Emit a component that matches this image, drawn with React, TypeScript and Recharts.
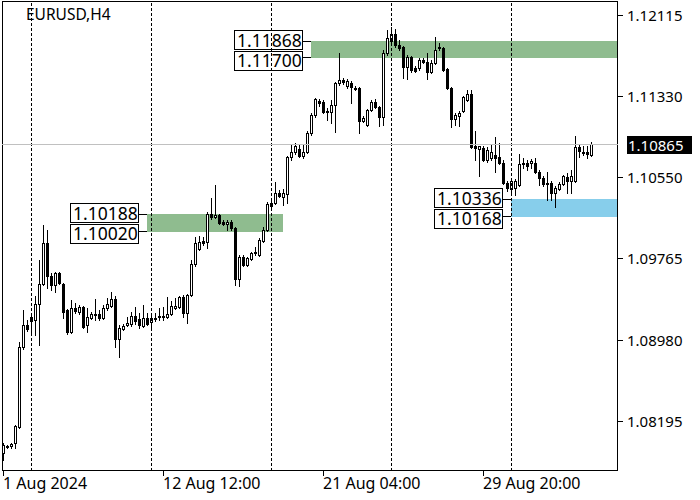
import React from 'react';
import { ComposedChart, Bar, XAxis, YAxis, ReferenceLine, ReferenceArea } from 'recharts';

const FONT = '"Noto Sans", sans-serif';

// H4 candles, EURUSD
const opens = [
  1.07884, 1.07942, 1.07952, 1.07981, 1.08135, 1.08908, 1.09121, 1.09198, 1.09169, 1.09323,
  1.09517, 1.09913, 1.09594, 1.09507, 1.09623, 1.09517, 1.09265, 1.09053, 1.09285, 1.09246,
  1.09294, 1.09121, 1.09188, 1.09217, 1.09227, 1.09188, 1.09285, 1.09304, 1.09372, 1.08985,
  1.09082, 1.09121, 1.0913, 1.09207, 1.09178, 1.09111, 1.09188, 1.0915, 1.09178, 1.09198,
  1.09207, 1.09198, 1.09227, 1.09285, 1.09294, 1.09391, 1.09236, 1.0941, 1.0971, 1.09855,
  1.09932, 1.09922, 1.10193, 1.10164, 1.10183, 1.10116, 1.10096, 1.10116, 1.10058, 1.09565,
  1.09777, 1.097, 1.09758, 1.09816, 1.09797, 1.09932, 1.10038, 1.1027, 1.10299, 1.10396,
  1.10357, 1.10386, 1.10743, 1.10792, 1.10821, 1.10753, 1.10792, 1.10975, 1.11149, 1.11284,
  1.11275, 1.11188, 1.11178, 1.11246, 1.11458, 1.11487, 1.11429, 1.11458, 1.1141, 1.1141,
  1.11091, 1.11052, 1.11197, 1.11275, 1.11226, 1.1113, 1.11748, 1.11864, 1.11932, 1.11825,
  1.11806, 1.11613, 1.11709, 1.11603, 1.11603, 1.1168, 1.11661, 1.11565, 1.11651, 1.11796,
  1.11796, 1.11593, 1.1141, 1.1111, 1.11139, 1.11188, 1.11294, 1.11352, 1.1085, 1.10821,
  1.1083, 1.10714, 1.10734, 1.10763, 1.10743, 1.10685, 1.10492, 1.10434, 1.10444, 1.10473,
  1.10676, 1.10685, 1.10685, 1.10685, 1.10598, 1.10541, 1.10492, 1.10492, 1.10396, 1.10434,
  1.10483, 1.1055, 1.10512, 1.10512, 1.1084, 1.10782, 1.10792, 1.10763,
];
const closes = [
  1.07961, 1.07952, 1.07971, 1.08145, 1.08908, 1.09121, 1.09082, 1.09159, 1.09323, 1.09517,
  1.09913, 1.09594, 1.09507, 1.09623, 1.09526, 1.09246, 1.09053, 1.09285, 1.09256, 1.09294,
  1.09101, 1.09198, 1.09227, 1.09227, 1.09188, 1.09285, 1.09323, 1.09372, 1.08985, 1.09092,
  1.09111, 1.0914, 1.09207, 1.09159, 1.09121, 1.09188, 1.0913, 1.09188, 1.09188, 1.09207,
  1.09198, 1.09227, 1.09304, 1.09304, 1.09391, 1.09236, 1.0941, 1.0971, 1.09913, 1.09922,
  1.09913, 1.10193, 1.10164, 1.10183, 1.10106, 1.10096, 1.10116, 1.10058, 1.09565, 1.09777,
  1.097, 1.09768, 1.09816, 1.09826, 1.09942, 1.10038, 1.10289, 1.10299, 1.10396, 1.10367,
  1.10396, 1.10743, 1.10792, 1.1085, 1.10753, 1.10792, 1.10975, 1.11149, 1.11304, 1.11265,
  1.11178, 1.11178, 1.11246, 1.11458, 1.11487, 1.11468, 1.11478, 1.1142, 1.114, 1.11091,
  1.1112, 1.11197, 1.11275, 1.11226, 1.1113, 1.11748, 1.11893, 1.11932, 1.11825, 1.11796,
  1.11613, 1.11709, 1.11584, 1.11574, 1.1168, 1.11661, 1.11565, 1.11651, 1.11777, 1.11806,
  1.11584, 1.1141, 1.1111, 1.11149, 1.11168, 1.11323, 1.11352, 1.1084, 1.1083, 1.1085,
  1.10714, 1.10811, 1.10792, 1.10734, 1.10685, 1.10492, 1.10444, 1.10512, 1.10512, 1.10676,
  1.10685, 1.10656, 1.10705, 1.10598, 1.10541, 1.10483, 1.10483, 1.10396, 1.10444, 1.10483,
  1.1056, 1.10512, 1.1056, 1.1084, 1.10801, 1.10792, 1.10772, 1.10865,
];
const highs = [
  1.07981, 1.07961, 1.07981, 1.08155, 1.08956, 1.09265, 1.09169, 1.09217, 1.09401, 1.09748,
  1.10087, 1.10038, 1.09623, 1.09633, 1.09633, 1.09526, 1.09275, 1.09362, 1.09333, 1.09314,
  1.09304, 1.09285, 1.09246, 1.09372, 1.09265, 1.09314, 1.09381, 1.09439, 1.09401, 1.09121,
  1.0913, 1.09198, 1.09246, 1.09294, 1.09236, 1.09314, 1.09236, 1.09217, 1.09236, 1.09285,
  1.09294, 1.09391, 1.09352, 1.09381, 1.09401, 1.0941, 1.0942, 1.09748, 1.09971, 1.0998,
  1.09971, 1.10212, 1.10347, 1.10473, 1.10193, 1.10135, 1.10135, 1.10135, 1.10067, 1.09797,
  1.09797, 1.09777, 1.09826, 1.09874, 1.09961, 1.10067, 1.10309, 1.10328, 1.10502, 1.10425,
  1.10434, 1.10753, 1.10859, 1.10879, 1.10869, 1.10869, 1.10995, 1.11168, 1.11313, 1.11304,
  1.11294, 1.11217, 1.11294, 1.11468, 1.11748, 1.11506, 1.11497, 1.11478, 1.11429, 1.1142,
  1.11139, 1.11207, 1.11294, 1.11304, 1.11236, 1.11777, 1.1197, 1.11999, 1.1198, 1.11874,
  1.11816, 1.11729, 1.11719, 1.11622, 1.117, 1.117, 1.11748, 1.1168, 1.11903, 1.11845,
  1.11806, 1.11603, 1.1142, 1.11168, 1.11188, 1.11333, 1.11391, 1.11391, 1.10995, 1.1085,
  1.1085, 1.1084, 1.10859, 1.10937, 1.10879, 1.10714, 1.10512, 1.10541, 1.10531, 1.10772,
  1.10734, 1.10714, 1.10724, 1.10734, 1.10618, 1.1056, 1.10598, 1.10512, 1.10463, 1.10502,
  1.1057, 1.10589, 1.10618, 1.10946, 1.10859, 1.1085, 1.1085, 1.10888,
];
const lows = [
  1.07816, 1.07932, 1.07932, 1.07932, 1.08126, 1.08889, 1.09063, 1.09024, 1.09024, 1.08927,
  1.09507, 1.09478, 1.09459, 1.09439, 1.09517, 1.09188, 1.09034, 1.09043, 1.09236, 1.09227,
  1.09092, 1.09053, 1.09178, 1.09169, 1.09169, 1.09178, 1.09265, 1.09294, 1.08908, 1.08811,
  1.09072, 1.09111, 1.09111, 1.0913, 1.09092, 1.09101, 1.09121, 1.09092, 1.09159, 1.09169,
  1.09169, 1.09188, 1.09217, 1.09275, 1.09285, 1.09198, 1.0914, 1.09401, 1.0969, 1.09845,
  1.09893, 1.09864, 1.10145, 1.10154, 1.10096, 1.10087, 1.10038, 1.10038, 1.09507, 1.09497,
  1.0969, 1.0969, 1.09748, 1.09797, 1.09787, 1.09922, 1.10029, 1.10251, 1.10289, 1.10357,
  1.1028, 1.10299, 1.10714, 1.10772, 1.10743, 1.10734, 1.10782, 1.10956, 1.1113, 1.11236,
  1.11168, 1.11101, 1.11072, 1.10985, 1.11439, 1.11449, 1.1141, 1.11265, 1.11391, 1.10975,
  1.11081, 1.11043, 1.11188, 1.11217, 1.11043, 1.11052, 1.11729, 1.11835, 1.11806, 1.11777,
  1.11506, 1.11497, 1.11565, 1.11565, 1.11584, 1.11651, 1.11497, 1.11555, 1.11642, 1.11777,
  1.11574, 1.114, 1.11033, 1.11052, 1.11043, 1.11178, 1.11284, 1.1083, 1.10714, 1.1056,
  1.10705, 1.10695, 1.10714, 1.10598, 1.10676, 1.10483, 1.10415, 1.10396, 1.10376, 1.10463,
  1.10637, 1.10618, 1.10637, 1.10589, 1.10473, 1.10463, 1.10328, 1.10328, 1.1026, 1.10425,
  1.10473, 1.10396, 1.10396, 1.10502, 1.10743, 1.10763, 1.10734, 1.10753,
];

const xTickIndex = [0, 40, 80, 120];
const xTickLabels = ['1 Aug 2024', '12 Aug 12:00', '21 Aug 04:00', '29 Aug 20:00'];
const yTicks = [1.12115, 1.1133, 1.1055, 1.09765, 1.0898, 1.08195];
const separators = [7, 37, 67, 97, 127];
const currentPrice = 1.10865;
const symbolTitle = 'EURUSD,H4';

const zoneStart = [36, 77, 127];
const zoneLow = [1.1002, 1.117, 1.10168];
const zoneHigh = [1.10188, 1.11868, 1.10336];
const zoneColor = ['#8FBC8F', '#8FBC8F', '#87CEEB'];

const X_MIN = -0.25;
const X_MAX = 153.75;
const Y_MIN = 1.0771;
const Y_MAX = 1.1225;
const zoneEnd = [70, X_MAX, X_MAX];

const data = opens.map((o, i) => ({
  i,
  o,
  c: closes[i],
  h: highs[i],
  l: lows[i],
  range: [lows[i], highs[i]],
}));

const Candle = (props: any) => {
  const { x, y, width, height, payload } = props;
  if (!payload || height == null || isNaN(y)) return null;
  const { o, c, h, l } = payload;
  const cx = Math.round(x + width / 2);
  const k = height / (h - l);
  const py = (v: number) => y + (h - v) * k;
  const top = Math.round(py(Math.max(o, c)));
  const bot = Math.round(py(Math.min(o, c)));
  const yh = Math.round(y);
  const yl = Math.round(y + height);
  const bull = c >= o;
  const bh = Math.max(bot - top, 1);
  return (
    <g>
      <line x1={cx + 0.5} x2={cx + 0.5} y1={yh} y2={yl + 1} stroke="#000" strokeWidth={1} />
      {bull ? (
        <rect x={cx - 0.5} y={top + 0.5} width={2} height={bh} fill="#fff" stroke="#000" strokeWidth={1} />
      ) : (
        <rect x={cx - 1} y={top} width={3} height={bh + 1} fill="#000" />
      )}
    </g>
  );
};

const XTick = (props: any) => {
  const { x, y, payload } = props;
  const idx = xTickIndex.indexOf(payload.value);
  const px = Math.round(x);
  return (
    <g>
      <line x1={px + 0.5} x2={px + 0.5} y1={y} y2={y + 5} stroke="#000" />
      <text x={px} y={y + 18} fontFamily={FONT} fontSize={16} fill="#000">
        {xTickLabels[idx]}
      </text>
    </g>
  );
};

const YTick = (props: any) => {
  const { x, y, payload } = props;
  const py = Math.round(y);
  return (
    <g>
      <line x1={x} x2={x + 5} y1={py + 0.5} y2={py + 0.5} stroke="#000" />
      <text x={x + 9} y={py + 5.5} fontFamily={FONT} fontSize={15} fill="#000">
        {Number(payload.value).toFixed(5)}
      </text>
    </g>
  );
};

const makeZoneShape = (hiText: string, loText: string) => (p: any) => {
  const { x, y, width, height, fill } = p;
  const L = Math.round(x);
  const T = Math.round(y);
  const B = Math.round(y + height);
  const R = Math.round(x + width);
  const boxR = L - 9;
  const boxL = boxR - 68;
  const mid = Math.round((T + B) / 2);
  return (
    <g>
      <rect x={L} y={T} width={R - L} height={B - T} fill={fill} />
      <line x1={boxR} x2={L} y1={T + 0.5} y2={T + 0.5} stroke="#000" />
      <line x1={boxR} x2={L} y1={B - 0.5} y2={B - 0.5} stroke="#000" />
      <rect x={boxL + 0.5} y={mid - 20 + 0.5} width={68} height={19} fill="#fff" stroke="#000" />
      <rect x={boxL + 0.5} y={mid + 1 + 0.5} width={68} height={19} fill="#fff" stroke="#000" />
      <text x={boxL + 3} y={mid - 3} fontFamily={FONT} fontSize={17.5} fill="#000">
        {hiText}
      </text>
      <text x={boxL + 3} y={mid + 17} fontFamily={FONT} fontSize={17.5} fill="#000">
        {loText}
      </text>
    </g>
  );
};

const DashShape = (p: any) => {
  const lx = Math.round(p.x1) + 0.5;
  return <line x1={lx} x2={lx} y1={p.y1} y2={p.y2} stroke="#000" strokeDasharray="3 2" />;
};

const PriceShape = (p: any) => {
  const ly = Math.round(p.y1);
  const right = Math.max(p.x1, p.x2);
  const left = Math.min(p.x1, p.x2);
  return (
    <g>
      <line x1={left} x2={right} y1={ly + 0.5} y2={ly + 0.5} stroke="#C0C0C0" />
      <rect x={right + 9} y={ly - 8} width={65} height={18} fill="#000" />
      <text x={right + 10} y={ly + 7} fontFamily={FONT} fontSize={15} fill="#fff">
        {currentPrice.toFixed(5)}
      </text>
    </g>
  );
};

const FrameShape = (p: any) => {
  const L = Math.round(p.x);
  const T = Math.round(p.y);
  const W = Math.round(p.width);
  const H = Math.round(p.height);
  return (
    <g>
      <rect x={L + 0.5} y={T + 0.5} width={W - 1} height={H - 1} fill="none" stroke="#000" />
      <text x={L + 24} y={T + 19} fontFamily={FONT} fontSize={15.5} fill="#000">
        {symbolTitle}
      </text>
    </g>
  );
};

export default function App() {
  return (
    <div style={{ position: 'absolute', left: 0, top: 0, width: 700, height: 500, background: '#fff' }}>
      <ComposedChart width={700} height={500} data={data} margin={{ top: 1, right: 0, bottom: 0, left: 2 }}>
        <XAxis
          dataKey="i"
          type="number"
          domain={[X_MIN, X_MAX]}
          allowDataOverflow
          ticks={xTickIndex}
          interval={0}
          tick={<XTick />}
          tickSize={0}
          tickMargin={0}
          tickLine={false}
          axisLine={false}
          height={29}
        />
        <YAxis
          orientation="right"
          type="number"
          domain={[Y_MIN, Y_MAX]}
          allowDataOverflow
          ticks={yTicks}
          interval={0}
          tick={<YTick />}
          tickSize={0}
          tickMargin={0}
          tickLine={false}
          axisLine={false}
          width={82}
        />
        {zoneStart.map((s, k) => (
          <ReferenceArea
            key={'z' + k}
            x1={s}
            x2={zoneEnd[k]}
            y1={zoneLow[k]}
            y2={zoneHigh[k]}
            fill={zoneColor[k]}
            fillOpacity={1}
            ifOverflow="visible"
            shape={makeZoneShape(zoneHigh[k].toFixed(5), zoneLow[k].toFixed(5))}
          />
        ))}
        {separators.map((s) => (
          <ReferenceLine key={'s' + s} x={s} stroke="#000" strokeDasharray="3 2" shape={DashShape} />
        ))}
        <ReferenceLine y={currentPrice} stroke="#C0C0C0" shape={PriceShape} />
        <Bar dataKey="range" barSize={4} isAnimationActive={false} shape={(p: any) => <Candle {...p} />} />
        <ReferenceArea
          x1={X_MIN}
          x2={X_MAX}
          y1={Y_MIN}
          y2={Y_MAX}
          ifOverflow="visible"
          shape={FrameShape}
        />
      </ComposedChart>
    </div>
  );
}
